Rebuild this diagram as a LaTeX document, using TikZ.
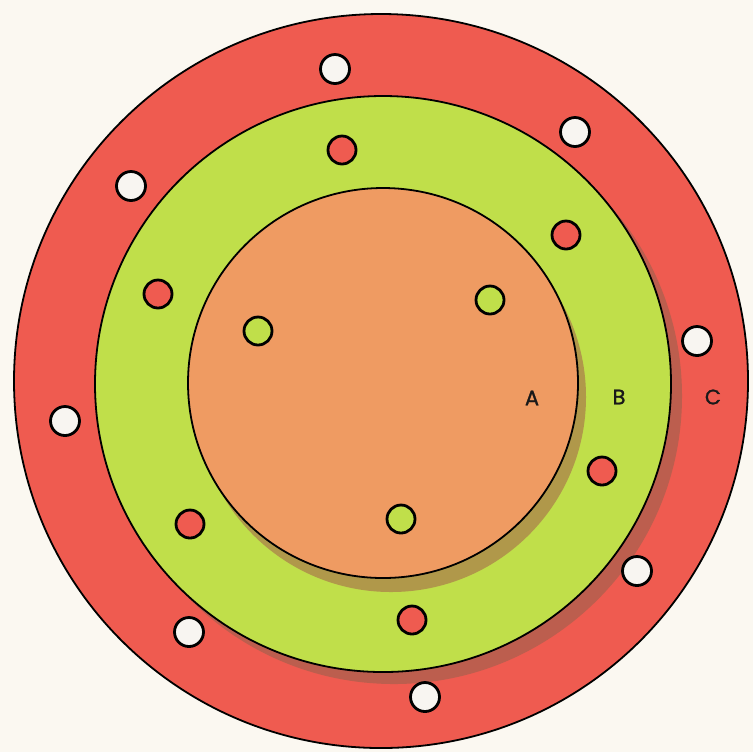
\documentclass[tikz,border=0pt]{standalone}
\usepackage{fontspec}
\newfontfamily\platefont[FakeBold=1.2]{Poppins}
\definecolor{paper}{HTML}{FBF8F1}
\definecolor{ringred}{HTML}{EF5B50}
\definecolor{lime}{HTML}{C0DF4A}
\definecolor{peach}{HTML}{EF9B62}
\definecolor{shadered}{HTML}{BC5E4E}
\definecolor{shadelime}{HTML}{B0984A}
\definecolor{holewhite}{HTML}{F8F5F1}

\begin{document}
\begin{tikzpicture}[x=0.5pt,y=-0.5pt,line cap=round,line join=round,
    rim/.style={draw=black,line width=0.9pt},
    hole/.style={draw=black,line width=1.4pt},
    platelabel/.style={font=\platefont\fontsize{10.5}{11}\selectfont,text=black!90}]
  \fill[paper] (0,0) rectangle (753,752);
  \useasboundingbox (0,0) rectangle (753,752);

  % plate C
  \path[fill=ringred,rim] (381,381) circle (367);
  \fill[shadered] (394,396) circle (288);
  \foreach \x/\y in {335/69,575/132,131/186,697/341,65/421,637/571,189/632,425/697}{
    \path[fill=holewhite,hole] (\x,\y) circle (14.5);
  }

  % plate B
  \path[fill=lime,rim] (383,384) circle (288);
  \fill[shadelime] (391,397) circle (195);
  \foreach \x/\y in {342/150,566/235,158/294,602/471,190/524,412/620}{
    \path[fill=ringred,hole] (\x,\y) circle (14);
  }

  % plate A
  \path[fill=peach,rim] (383,383) circle (195);
  \foreach \x/\y in {490/300,258/331,401/519}{
    \path[fill=lime,hole] (\x,\y) circle (14);
  }

  \node[platelabel] (labA) at (532,398) {A};
  \node[platelabel] (labB) at (619,397) {B};
  \node[platelabel] (labC) at (713,397) {C};
\end{tikzpicture}
\end{document}
